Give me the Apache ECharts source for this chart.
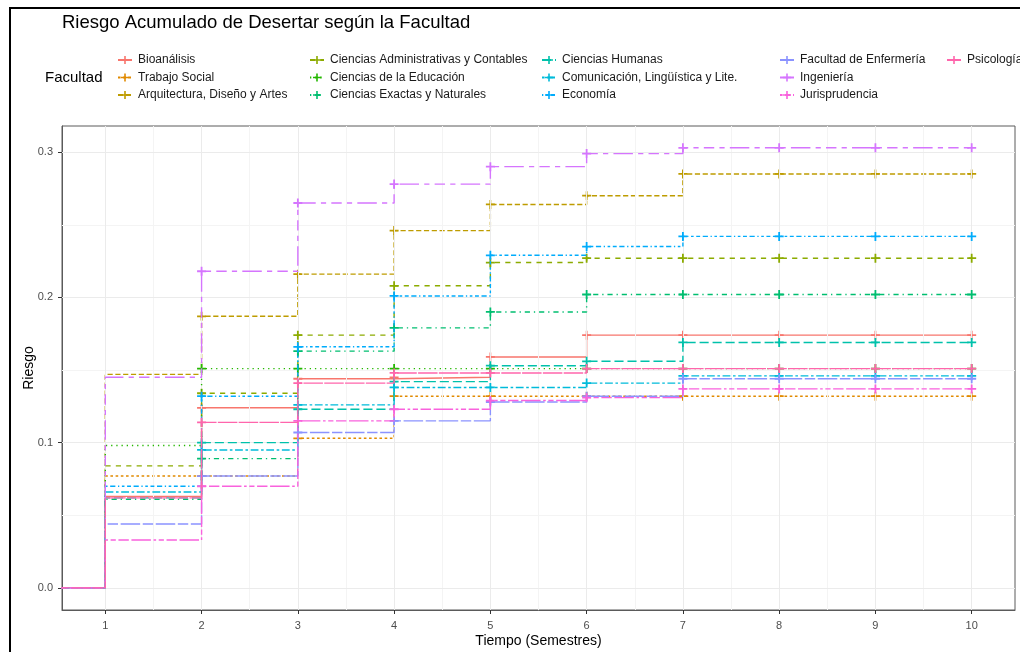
<!DOCTYPE html>
<html>
<head>
<meta charset="utf-8">
<script src="https://cdn.jsdelivr.net/npm/echarts@6/dist/echarts.min.js"></script>
<style>
  html, body { margin: 0; padding: 0; background: #ffffff; }
  #chart { width: 1020px; height: 652px; }
</style>
</head>
<body>
<div id="chart"></div>
<script>
// Cumulative dropout risk per faculty, value held from each semester onward
const times = [1, 2, 3, 4, 5, 6, 7, 8, 9, 10];

const bioanalisis    = [0.063, 0.124, 0.144, 0.145, 0.159, 0.174, 0.174, 0.174, 0.174, 0.174];
const trabajoSocial  = [0.077, 0.077, 0.103, 0.132, 0.132, 0.132, 0.132, 0.132, 0.132, 0.132];
const arquitectura   = [0.147, 0.187, 0.216, 0.246, 0.264, 0.270, 0.285, 0.285, 0.285, 0.285];
const administrativas= [0.084, 0.134, 0.174, 0.208, 0.224, 0.227, 0.227, 0.227, 0.227, 0.227];
const educacion      = [0.098, 0.151, 0.151, 0.151, 0.151, 0.151, 0.151, 0.151, 0.151, 0.151];
const exactas        = [0.061, 0.089, 0.163, 0.179, 0.190, 0.202, 0.202, 0.202, 0.202, 0.202];
const humanas        = [0.062, 0.100, 0.123, 0.142, 0.153, 0.156, 0.169, 0.169, 0.169, 0.169];
const comunicacion   = [0.066, 0.095, 0.126, 0.138, 0.138, 0.141, 0.146, 0.146, 0.146, 0.146];
const economia       = [0.070, 0.132, 0.166, 0.201, 0.229, 0.235, 0.242, 0.242, 0.242, 0.242];
const enfermeria     = [0.044, 0.077, 0.107, 0.115, 0.128, 0.132, 0.144, 0.144, 0.144, 0.144];
const ingenieria     = [0.145, 0.218, 0.265, 0.278, 0.290, 0.299, 0.303, 0.303, 0.303, 0.303];
const jurisprudencia = [0.033, 0.070, 0.115, 0.123, 0.129, 0.131, 0.137, 0.137, 0.137, 0.137];
const psicologia     = [0.062, 0.114, 0.141, 0.148, 0.148, 0.151, 0.151, 0.151, 0.151, 0.151];

const facultades = [
  'Bioanálisis', 'Trabajo Social', 'Arquitectura, Diseño y Artes',
  'Ciencias Administrativas y Contables', 'Ciencias de la Educación', 'Ciencias Exactas y Naturales',
  'Ciencias Humanas', 'Comunicación, Lingüística y Lite.', 'Economía',
  'Facultad de Enfermería', 'Ingeniería', 'Jurisprudencia', 'Psicología'
];
const valores = [
  bioanalisis, trabajoSocial, arquitectura, administrativas, educacion, exactas,
  humanas, comunicacion, economia, enfermeria, ingenieria, jurisprudencia, psicologia
];

const xTicks = [1, 2, 3, 4, 5, 6, 7, 8, 9, 10];
const xMinor = [1.5, 2.5, 3.5, 4.5, 5.5, 6.5, 7.5, 8.5, 9.5];
const yTicks = [0, 0.1, 0.2, 0.3];
const yMinor = [0.05, 0.15, 0.25];

// Styling
const colors = ['#F8766D', '#E18A00', '#BE9C00', '#8CAB00', '#24B700', '#00BE70',
  '#00C1AB', '#00BBDA', '#00ACFC', '#8B93FF', '#D575FE', '#F962DD', '#FF65AC'];
const hexDash = ['solid', '22', '42', '44', '13', '1343', '73', '2262', '12223242',
  'F282', 'F4448444', '224282F2', 'F1'];
const unit = 1.3;
function dashOf(code) {
  if (code === 'solid') return 'solid';
  return code.split('').map(function (c) { return parseInt(c, 16) * unit; });
}
const plus = 'path://M4,0H6V4H10V6H6V10H4V6H0V4H4Z';
const FONT = 'Liberation Sans, Arial, sans-serif';

const series = [];

// panel grid lines
series.push({
  type: 'line', data: [], silent: true, z: 1,
  markLine: {
    silent: true, symbol: 'none', animation: false,
    label: { show: false },
    emphasis: { disabled: true },
    data: []
      .concat(xMinor.map(function (v) { return { xAxis: v, lineStyle: { color: '#F4F4F4', width: 1, type: 'solid' } }; }))
      .concat(yMinor.map(function (v) { return { yAxis: v, lineStyle: { color: '#F4F4F4', width: 1, type: 'solid' } }; }))
      .concat(xTicks.map(function (v) { return { xAxis: v, lineStyle: { color: '#EBEBEB', width: 1, type: 'solid' } }; }))
      .concat(yTicks.map(function (v) { return { yAxis: v, lineStyle: { color: '#EBEBEB', width: 1, type: 'solid' } }; }))
  }
});

facultades.forEach(function (name, i) {
  const pts = [{ value: [0, 0], symbol: 'none' }];
  times.forEach(function (t, k) {
    pts.push({ value: [t, valores[i][k]], symbol: t >= 2 ? plus : 'none' });
  });
  series.push({
    name: name,
    type: 'line',
    step: 'end',
    z: 2 + i,
    data: pts,
    symbol: plus,
    symbolSize: 9,
    showSymbol: true,
    showAllSymbol: true,
    color: colors[i],
    itemStyle: { color: colors[i] },
    lineStyle: { color: colors[i], width: 1.4, type: dashOf(hexDash[i]) },
    emphasis: { disabled: true },
    animation: false
  });
});

function legendCol(names, left) {
  return {
    data: names, orient: 'vertical', left: left, top: 48,
    itemWidth: 14, itemHeight: 10, itemGap: 3.5,
    selectedMode: false,
    textStyle: { fontFamily: FONT, fontSize: 12, color: '#1a1a1a', lineHeight: 14, padding: [0, 0, 0, 1] }
  };
}

const option = {
  animation: false,
  backgroundColor: '#ffffff',
  title: {
    text: 'Riesgo Acumulado de Desertar según la Facultad',
    left: 57, top: 8,
    textStyle: { fontFamily: FONT, fontSize: 18.5, fontWeight: 'normal', color: '#000000' }
  },
  legend: [
    legendCol(facultades.slice(0, 3), 112),
    legendCol(facultades.slice(3, 6), 304),
    legendCol(facultades.slice(6, 9), 536),
    legendCol(facultades.slice(9, 12), 774),
    legendCol(facultades.slice(12, 13), 941)
  ],
  graphic: [
    { type: 'rect', shape: { x: 10, y: 8, width: 1040, height: 700 },
      style: { fill: 'none', stroke: '#000000', lineWidth: 2 }, silent: true },
    { type: 'text', left: 45, top: 70,
      style: { text: 'Facultad', font: '15px Liberation Sans, Arial, sans-serif', fill: '#000000' } }
  ],
  grid: {
    left: 62, right: 5, top: 126, bottom: 42,
    outerBoundsMode: 'none',
    show: true, borderColor: '#5a5a5a', borderWidth: 1, backgroundColor: '#ffffff'
  },
  xAxis: {
    type: 'value', min: 0.55, max: 10.45,
    name: 'Tiempo (Semestres)', nameLocation: 'middle', nameGap: 24, nameMoveOverlap: false,
    nameTextStyle: { fontFamily: FONT, fontSize: 14, color: '#000000' },
    axisLine: { show: true, onZero: false, lineStyle: { color: '#5a5a5a' } },
    axisTick: { show: true, length: 4, customValues: xTicks, lineStyle: { color: '#333333' } },
    axisLabel: { customValues: xTicks, fontFamily: FONT, fontSize: 11, color: '#4d4d4d', margin: 10 },
    splitLine: { show: false }
  },
  yAxis: {
    type: 'value', min: -0.0152, max: 0.318,
    name: 'Riesgo', nameLocation: 'middle', nameGap: 26, nameMoveOverlap: false,
    nameTextStyle: { fontFamily: FONT, fontSize: 14, color: '#000000' },
    axisLine: { show: true, onZero: false, lineStyle: { color: '#5a5a5a' } },
    axisTick: { show: true, length: 4, customValues: yTicks, lineStyle: { color: '#333333' } },
    axisLabel: { customValues: yTicks, fontFamily: FONT, fontSize: 11, color: '#4d4d4d', margin: 9,
      formatter: function (v) { return v.toFixed(1); } },
    splitLine: { show: false }
  },
  series: series
};

const chart = echarts.init(document.getElementById('chart'), null, { renderer: 'canvas' });
chart.setOption(option);
</script>
</body>
</html>
